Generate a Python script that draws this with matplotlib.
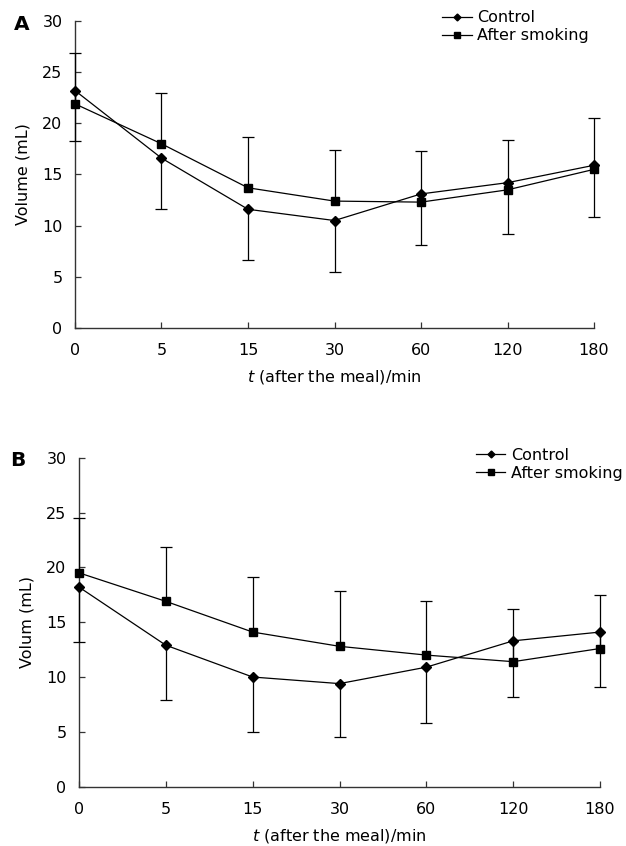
import matplotlib
matplotlib.use("Agg")
import matplotlib.pyplot as plt
import numpy as np

plt.rcParams['font.family'] = ['DejaVu Sans']

time_labels = ["0", "5", "15", "30", "60", "120", "180"]

# Panel A
a_control = [23.2, 16.6, 11.6, 10.5, 13.1, 14.2, 15.9]
a_control_sd = [4.9, 5.0, 5.0, 5.0, 5.0, 5.0, 5.1]
a_smoking = [21.9, 18.0, 13.7, 12.4, 12.3, 13.5, 15.5]
a_smoking_sd = [5.0, 5.0, 5.0, 5.0, 5.0, 4.9, 5.0]

# Panel B
b_control = [18.2, 12.9, 10.0, 9.4, 10.9, 13.3, 14.1]
b_control_sd = [5.0, 5.0, 5.0, 4.9, 5.1, 5.1, 5.0]
b_smoking = [19.5, 16.9, 14.1, 12.8, 12.0, 11.4, 12.6]
b_smoking_sd = [5.0, 5.0, 5.0, 5.0, 4.9, 4.8, 4.9]

FS = 11.5

fig = plt.figure(figsize=(6.26, 8.46), dpi=100)
axA = fig.add_axes([0.1198, 0.6123, 0.8291, 0.3629])
axB = fig.add_axes([0.1262, 0.0701, 0.8323, 0.3889])


def unclip(container):
    line, caps, bars = container.lines
    line.set_clip_on(False)
    for c in caps:
        c.set_clip_on(False)
    for b in bars:
        b.set_clip_on(False)


def draw(ax, control, csd, smoke, ssd, ylabel, letter, letter_xy, leg_anchor):
    x = np.arange(len(time_labels))
    z = np.zeros(len(x))
    # control: lower error bars only
    c1 = ax.errorbar(x, control, yerr=[csd, z], color='black', lw=0.9,
                     marker='D', ms=5.0, mfc='black', mec='black',
                     ecolor='black', elinewidth=0.9, capsize=4,
                     capthick=0.9, zorder=3)
    c1.lines[1][1].set_visible(False)
    unclip(c1)
    # after smoking: upper error bars only
    c2 = ax.errorbar(x, smoke, yerr=[z, ssd], color='black', lw=0.9,
                     marker='s', ms=5.5, mfc='black', mec='black',
                     ecolor='black', elinewidth=0.9, capsize=4,
                     capthick=0.9, zorder=3)
    c2.lines[1][0].set_visible(False)
    unclip(c2)
    l1 = c1.lines[0]
    l1.set_label('Control')
    l2 = c2.lines[0]
    l2.set_label('After smoking')
    ax.set_xlim(0, len(x) - 1)
    ax.set_ylim(0, 30)
    ax.set_yticks([0, 5, 10, 15, 20, 25, 30])
    ax.set_xticks(x)
    ax.set_xticklabels(time_labels)
    for s in ['top', 'right']:
        ax.spines[s].set_visible(False)
    for s in ['left', 'bottom']:
        ax.spines[s].set_color('#333333')
        ax.spines[s].set_linewidth(1.0)
    ax.tick_params(direction='in', length=4, width=0.9, color='#333333',
                   labelsize=FS)
    ax.tick_params(axis='x', pad=11)
    ax.tick_params(axis='y', pad=9)
    ax.set_ylabel(ylabel, fontsize=FS, labelpad=8.5)
    ax.set_xlabel(r'$t$ (after the meal)/min', fontsize=FS, labelpad=7)
    ax.text(letter_xy[0], letter_xy[1], letter, transform=ax.transAxes,
            fontsize=14.5, fontweight='bold', ha='right', va='center')
    fig.legend(handles=[l1, l2], loc='upper left', bbox_to_anchor=leg_anchor,
               bbox_transform=fig.transFigure,
               frameon=False, fontsize=FS, handlelength=1.85,
               handletextpad=0.35, labelspacing=0.2, borderpad=0,
               borderaxespad=0, markerscale=0.7)


draw(axA, a_control, a_control_sd, a_smoking, a_smoking_sd,
     'Volume (mL)', 'A', (-0.087, 0.99), (0.706, 0.988))
draw(axB, b_control, b_control_sd, b_smoking, b_smoking_sd,
     'Volum (mL)', 'B', (-0.102, 0.99), (0.760, 0.471))

fig.savefig('out.png', dpi=100)
